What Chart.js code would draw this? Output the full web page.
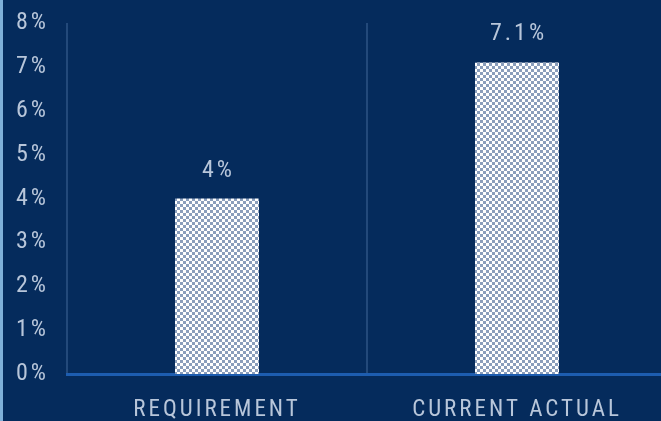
<!DOCTYPE html>
<html>
<head>
<meta charset="utf-8">
<script src="https://cdn.jsdelivr.net/npm/chart.js@4"></script>
<style>
  html, body { margin: 0; padding: 0; overflow: hidden; background: #052b5c; }
  #wrap { position: absolute; left: 0; top: 0; width: 667px; height: 421px; }
</style>
</head>
<body>
<div id="wrap"><canvas id="c"></canvas></div>
<script>
const categories = ['REQUIREMENT', 'CURRENT ACTUAL'];
const values = [4, 7.1];
const valueLabels = ['4%', '7.1%'];
const yMin = 0, yMax = 8, yStep = 1;

const FONT = "'Roboto Condensed', 'DejaVu Sans Condensed', sans-serif";
const TEXT = '#b8c6da';

function makePattern() {
  const p = document.createElement('canvas');
  p.width = 6; p.height = 6;
  const g = p.getContext('2d');
  g.fillStyle = '#ffffff'; g.fillRect(0, 0, 6, 6);
  g.fillStyle = '#8a9ebc';
  g.fillRect(0, 0, 3, 3); g.fillRect(3, 3, 3, 3);
  return g.createPattern(p, 'repeat');
}

const bgPlugin = {
  id: 'bg',
  beforeDraw(chart) {
    const ctx = chart.ctx;
    ctx.save();
    ctx.fillStyle = '#052b5c';
    ctx.fillRect(0, 0, chart.width, chart.height);
    ctx.fillStyle = '#7fb0d8';
    ctx.fillRect(0, 0, 3, chart.height);
    ctx.restore();
    ctx.letterSpacing = '3px';
  }
};

const labelPlugin = {
  id: 'vlabels',
  afterDatasetsDraw(chart) {
    const ctx = chart.ctx;
    const meta = chart.getDatasetMeta(0);
    ctx.save();
    ctx.letterSpacing = '3px';
    ctx.font = '24px ' + FONT;
    ctx.fillStyle = TEXT;
    ctx.textAlign = 'center';
    ctx.textBaseline = 'middle';
    meta.data.forEach((bar, i) => {
      ctx.fillText(valueLabels[i], bar.x + 1.5, bar.y - 28);
    });
    ctx.restore();
  }
};

new Chart(document.getElementById('c'), {
  type: 'bar',
  data: {
    labels: categories,
    datasets: [{
      data: values,
      backgroundColor: makePattern(),
      borderWidth: 0,
      categoryPercentage: 1,
      barPercentage: 0.28
    }]
  },
  options: {
    responsive: true,
    maintainAspectRatio: false,
    devicePixelRatio: 1,
    animation: false,
    layout: { padding: { top: 23, left: 0, right: 0, bottom: 0 } },
    plugins: { legend: { display: false }, tooltip: { enabled: false } },
    scales: {
      x: {
        grid: { color: '#23497a', lineWidth: 2, drawTicks: false, offset: true },
        border: { color: '#1d5db0', width: 3 },
        ticks: { color: TEXT, font: { family: FONT, size: 23 }, padding: 22, maxRotation: 0 },
        afterFit(s) { s.height = 47; s.paddingLeft = 0; s.paddingRight = 0; }
      },
      y: {
        min: yMin, max: yMax,
        grid: { display: false, drawTicks: false },
        border: { display: false },
        ticks: { stepSize: yStep, color: TEXT, font: { family: FONT, size: 24 }, padding: 18,
                 callback: v => v + '%' },
        afterFit(s) { s.width = 67; s.paddingTop = 0; s.paddingBottom = 0; }
      }
    }
  },
  plugins: [bgPlugin, labelPlugin]
});
</script>
</body>
</html>
